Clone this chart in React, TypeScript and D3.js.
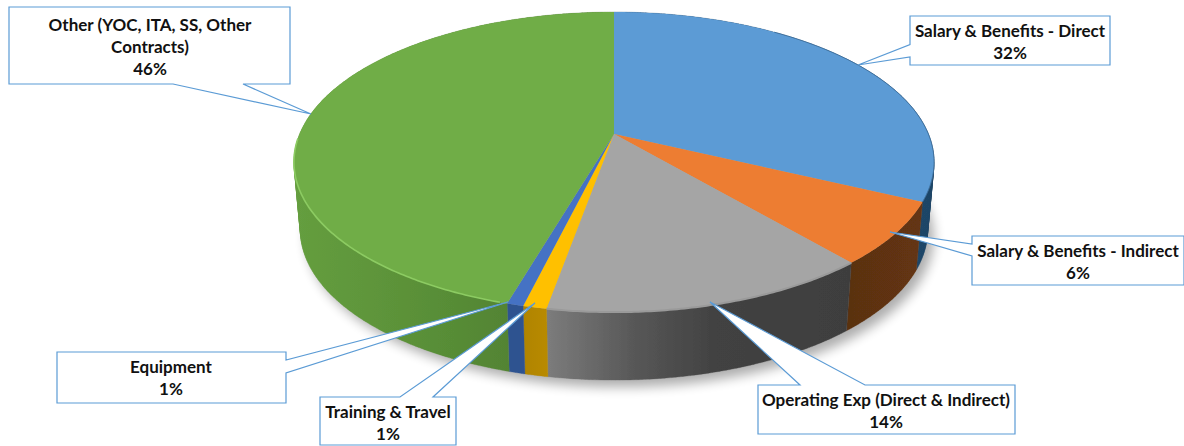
import React from "react";
import * as d3 from "d3";

const categories = [
  "Salary & Benefits - Direct",
  "Salary & Benefits - Indirect",
  "Operating Exp (Direct & Indirect)",
  "Training & Travel",
  "Equipment",
  "Other (YOC, ITA, SS, Other Contracts)",
];
const shares = [32.1, 6.7, 14.0, 1.0, 0.7, 45.5];
const percentLabels = ["32%", "6%", "14%", "1%", "1%", "46%"];
const topColors = ["#5b9bd5", "#ed7d31", "#a5a5a5", "#ffc000", "#4472c4", "#70ad47"];

// side wall shading, as [offset, colour] stops along the x axis
const sideStops: [number, string][][] = [
  [[0, "#24507a"], [1, "#1f4566"]],
  [[0, "#5a3011"], [1, "#653512"]],
  [[0, "#7c7c7c"], [0.3, "#565656"], [0.55, "#424242"], [1, "#3e3e3e"]],
  [[0, "#b88a00"], [1, "#b08400"]],
  [[0, "#2f5290"], [1, "#2f5290"]],
  [[0, "#659e3f"], [0.5, "#578c36"], [1, "#4a732e"]],
];

const W = 1184;
const H = 446;
const cx = 614;
const apexY = 134;
const ax = 314.4;
const by = 144.8;
const persp = 0.187;
const depth = 68;
const baseScale = 0.98;

type Pt = [number, number];
const top = (t: number): Pt => {
  const u = Math.sin(t);
  const v = -Math.cos(t);
  const w = 1 - persp * v;
  return [cx + (ax * u) / w, apexY + (by * v) / w];
};
const bottom = (t: number): Pt => {
  const [x, y] = top(t);
  return [cx + (x - cx) * baseScale, y + depth];
};
const arcPts = (f: (t: number) => Pt, a: number, b: number): Pt[] => {
  const n = Math.max(4, Math.ceil(Math.abs(b - a) / 0.01));
  return d3.range(n + 1).map((i) => f(a + ((b - a) * i) / n));
};
const line = d3.line<Pt>();

const slices = d3.pie<number>().sort(null)(shares);

// the wall is built from one small quad per step, so its outline follows the
// tangent between the top and bottom rims at the far left and right
function wallPath(a: number, b: number): string {
  const t = arcPts(top, a, b);
  const l = arcPts(bottom, a, b);
  return d3
    .range(t.length - 1)
    .map((i) => {
      const quad: Pt[] = [t[i], t[i + 1], l[i + 1], l[i]];
      const area = d3.polygonArea(quad);
      return line(area < 0 ? quad.slice().reverse() : quad) + "Z";
    })
    .join("");
}

interface Callout {
  box: [number, number, number, number];
  base: Pt[];
  tip: Pt;
  lines: string[];
  textX: number;
  textY: number;
}
const callouts: Callout[] = [
  { box: [910, 16, 200, 49], base: [[910, 44.5], [910, 57]], tip: [858, 65], lines: ["Salary & Benefits - Direct"], textX: 1010, textY: 37 },
  { box: [972, 236, 212, 49], base: [[972, 244], [972, 256]], tip: [890, 232], lines: ["Salary & Benefits - Indirect"], textX: 1078, textY: 257 },
  { box: [758, 385, 257, 49], base: [[800, 385], [865, 385]], tip: [710, 302], lines: ["Operating Exp (Direct & Indirect)"], textX: 886, textY: 406 },
  { box: [320, 397, 136, 48], base: [[400, 397], [433, 397]], tip: [535, 303], lines: ["Training & Travel"], textX: 388, textY: 418 },
  { box: [57, 352, 229, 51], base: [[286, 360], [286, 373]], tip: [508, 302], lines: ["Equipment"], textX: 171, textY: 373 },
  { box: [9, 7, 281, 77], base: [[173, 84], [243, 84]], tip: [311, 114], lines: ["Other (YOC, ITA, SS, Other", "Contracts)"], textX: 150, textY: 31 },
];

function calloutPath(c: Callout): string {
  const [x, y, w, h] = c.box;
  const tl: Pt = [x, y];
  const tr: Pt = [x + w, y];
  const br: Pt = [x + w, y + h];
  const bl: Pt = [x, y + h];
  const [b0, b1] = c.base;
  let pts: Pt[];
  if (b0[0] === x) pts = [tl, tr, br, bl, b1, c.tip, b0];
  else if (b0[0] === x + w) pts = [tl, tr, b0, c.tip, b1, br, bl];
  else if (b0[1] === y) pts = [tl, b0, c.tip, b1, tr, br, bl];
  else pts = [tl, tr, br, b1, c.tip, b0, bl];
  return line(pts) + "Z";
}

export default function App() {
  const font = "Lato, 'Open Sans', sans-serif";
  const silhouette = line(arcPts(bottom, 0, Math.PI * 2)) + "Z";
  const green = slices[5];
  return (
    <svg width={W} height={H} viewBox={`0 0 ${W} ${H}`} style={{ position: "absolute", left: 0, top: 0, display: "block", background: "#fff" }}>
      <defs>
        <filter id="shadow" x="-10%" y="-10%" width="120%" height="130%">
          <feGaussianBlur stdDeviation="6" />
        </filter>
        <filter id="soft" x="-5%" y="-5%" width="110%" height="110%">
          <feGaussianBlur stdDeviation="0.45" />
        </filter>
        <filter id="rimblur" x="-5%" y="-5%" width="110%" height="110%">
          <feGaussianBlur stdDeviation="0.7" />
        </filter>
        {slices.map((s, i) => {
          const xs = arcPts(top, s.startAngle, s.endAngle).map((p) => p[0]);
          const facingLeft = i >= 2;
          const lo = d3.min(xs)!;
          const hi = d3.max(xs)!;
          return (
            <linearGradient key={i} id={`side${i}`} gradientUnits="userSpaceOnUse"
              x1={i === 5 ? lo : facingLeft ? hi : lo} x2={i === 5 ? hi : facingLeft ? lo : hi} y1={0} y2={0}>
              {(i === 2 ? [...sideStops[i]].map(([o, c]) => [1 - o, c] as [number, string]).reverse() : sideStops[i]).map(([o, c], j) => (
                <stop key={j} offset={o} stopColor={c} />
              ))}
            </linearGradient>
          );
        })}
      </defs>

      <path d={silhouette} transform="translate(6,7)" fill="#000" opacity={0.32} filter="url(#shadow)" />

      <g filter="url(#soft)">
        {slices.map((s, i) => (
          <path key={categories[i]} d={wallPath(s.startAngle, s.endAngle)} fill={`url(#side${i})`} stroke={`url(#side${i})`} strokeWidth={0.3} />
        ))}
        {slices.map((s, i) => (
          <path key={i} d={line([[cx, apexY], ...arcPts(top, s.startAngle, s.endAngle)]) + "Z"} fill={topColors[i]} />
        ))}
        <path d={line(arcPts(top, green.startAngle + 0.02, Math.PI * 1.49)) ?? ""} fill="none" stroke="#8ccb62" strokeWidth={1.6} filter="url(#rimblur)" />
        <path d={line(arcPts(top, Math.PI * 0.2, slices[0].endAngle)) ?? ""} fill="none" stroke="#3f6f9c" strokeWidth={0.9} filter="url(#rimblur)" />
        <path d={line(arcPts(top, slices[2].startAngle, slices[3].startAngle)) ?? ""} fill="none" stroke="#9a9a9a" strokeWidth={2} filter="url(#rimblur)" />
      </g>

      {callouts.map((c, i) => {
        const lh = 22;
        return (
          <g key={i}>
            <path d={calloutPath(c)} fill="#fff" stroke="#5b9bd5" strokeWidth={1.2} />
            <text x={c.textX} y={c.textY} textAnchor="middle" fontFamily={font} fontWeight={700} fontSize={17} fill="#111">
              {c.lines.map((l, j) => (
                <tspan key={j} x={c.textX} dy={j === 0 ? 0 : lh}>{l}</tspan>
              ))}
              <tspan x={c.textX} dy={lh}>{percentLabels[i]}</tspan>
            </text>
          </g>
        );
      })}
    </svg>
  );
}
